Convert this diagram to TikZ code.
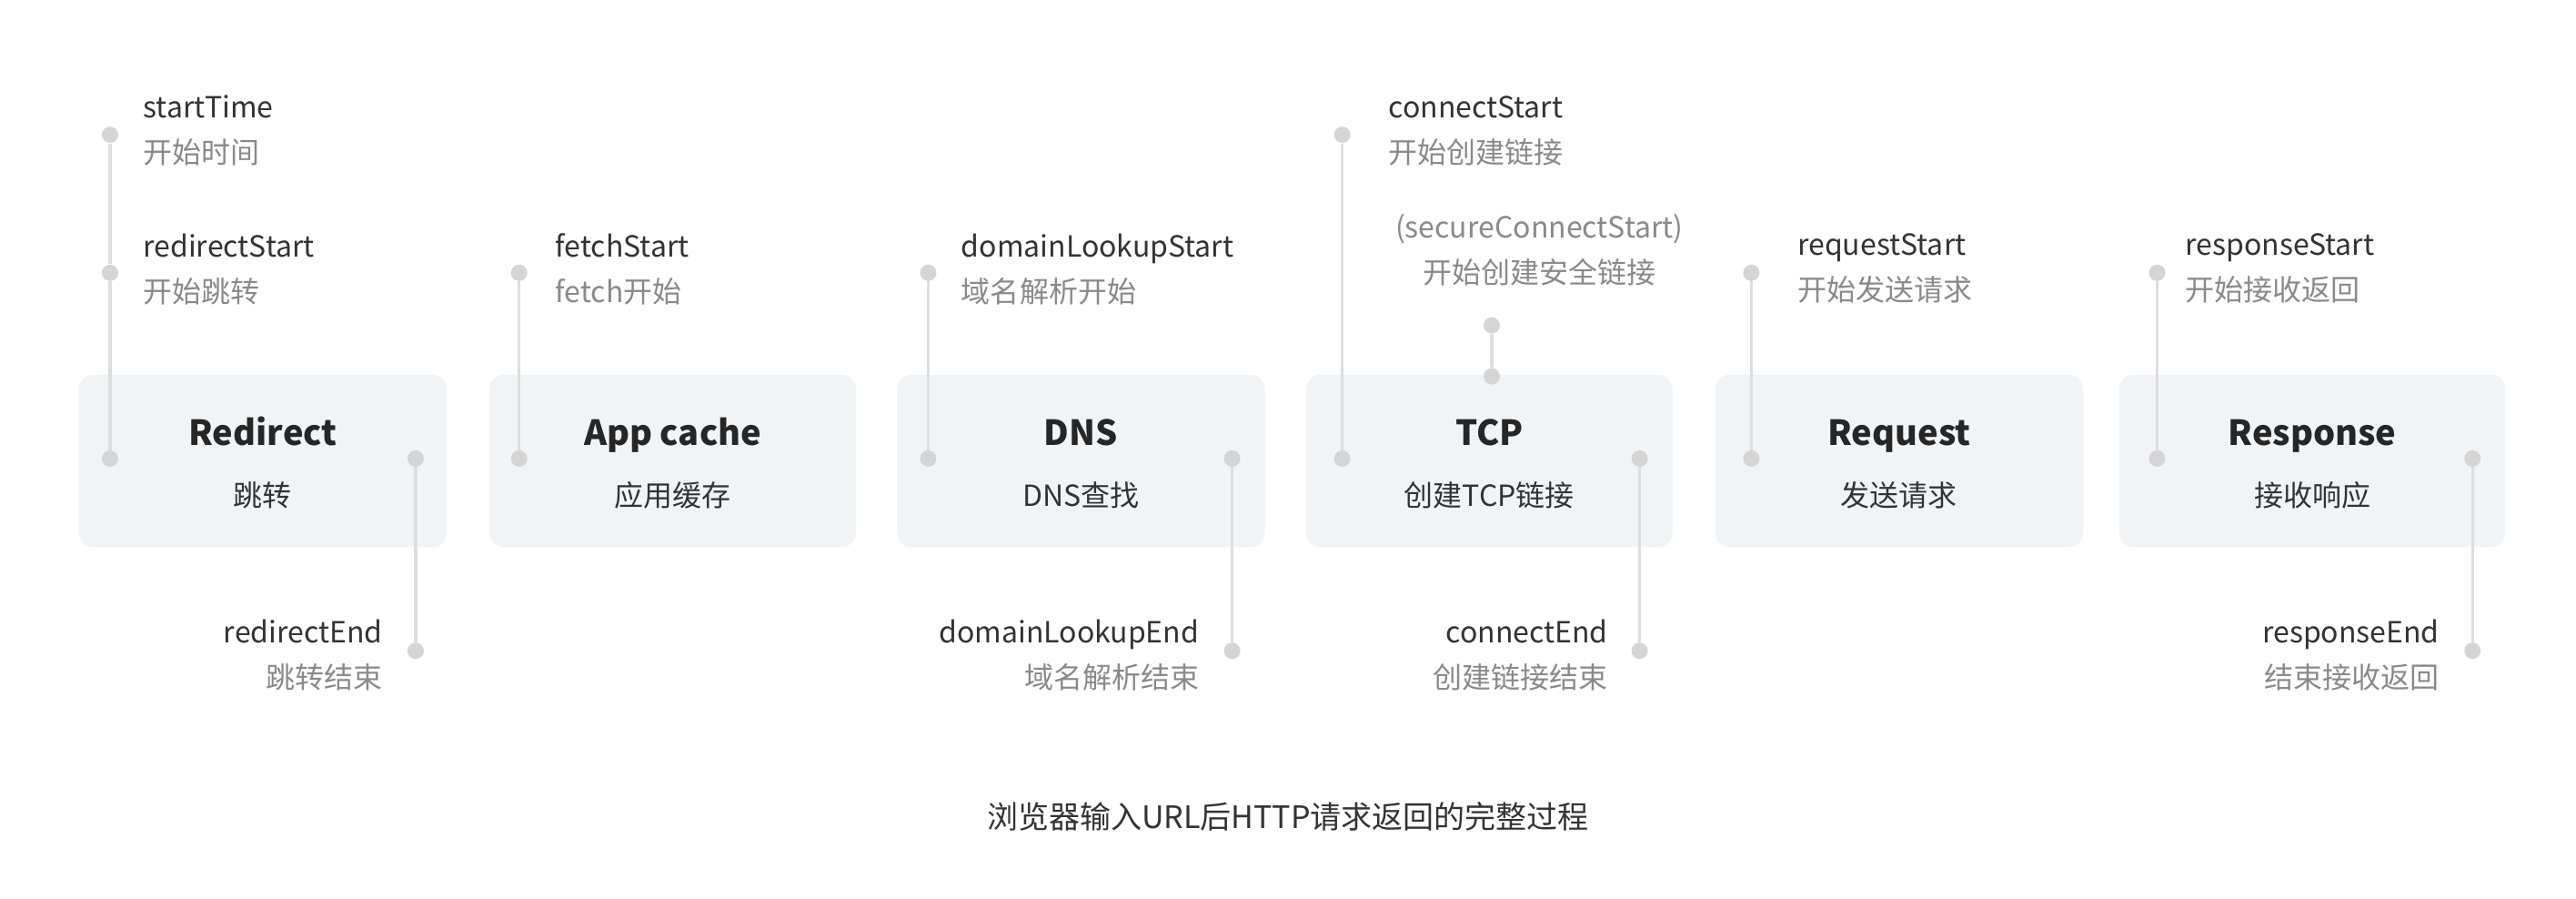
\documentclass[tikz,border=0pt]{standalone}
\usepackage{fontspec}
\setmainfont{Noto Sans CJK SC}
\definecolor{boxc}{HTML}{F1F4F7}
\definecolor{linec}{HTML}{DEDEDE}
\definecolor{dotc}{HTML}{D5D5D5}
\definecolor{en}{HTML}{333333}
\definecolor{cn}{HTML}{8A8A8A}
\begin{document}
\begin{tikzpicture}[x=0.903pt,y=-0.903pt,
  stage/.style={fill=boxc,rounded corners=8pt,draw=none},
  ttl/.style={font=\fontsize{19}{20}\selectfont\bfseries,text=black!85,anchor=base},
  sub/.style={font=\fontsize{16}{18}\selectfont,text=en,anchor=base},
  lab/.style={align=left,anchor=north west,font=\fontsize{16}{25}\selectfont,text=en,inner sep=0pt},
  labr/.style={align=right,anchor=north east,font=\fontsize{16}{25}\selectfont,text=en,inner sep=0pt},
  labc/.style={align=center,anchor=north,font=\fontsize{16}{25}\selectfont,text=en,inner sep=0pt},
  dotn/.style={circle,fill=dotc,inner sep=0pt,minimum size=9pt},
  conn/.style={draw=linec,line width=1.6pt}]
\fill[white] (0,0) rectangle (1568,547);
\useasboundingbox (0,0) rectangle (1568,547);
% boxes
\foreach \n/\a/\b/\t/\s in {r/48/272/Redirect/跳转, a/298/521/App cache/应用缓存, d/546/770/DNS/DNS查找, t/795/1018/TCP/创建TCP链接, q/1044/1268/Request/发送请求, p/1290/1525/Response/接收响应}{
  \path[stage] (\a,228) rectangle (\b,333);
  \node[ttl] (\n t) at ({(\a+\b)/2},271) {\t};
  \node[sub] (\n s) at ({(\a+\b)/2},308) {\s};
}
% dots
\node[dotn] (st) at (67,82) {};
\node[dotn] (rs) at (67,166) {};
\node[dotn] (rl) at (67,279) {};
\node[dotn] (rr) at (253,279) {};
\node[dotn] (re) at (253,396) {};
\node[dotn] (fs) at (316,166) {};
\node[dotn] (al) at (316,279) {};
\node[dotn] (ds) at (565,166) {};
\node[dotn] (dl) at (565,279) {};
\node[dotn] (dr) at (750,279) {};
\node[dotn] (de) at (750,396) {};
\node[dotn] (cs) at (817,82) {};
\node[dotn] (tl) at (817,279) {};
\node[dotn] (sc) at (908,198) {};
\node[dotn] (tc) at (908,229) {};
\node[dotn] (tr) at (998,279) {};
\node[dotn] (ce) at (998,396) {};
\node[dotn] (qs) at (1066,166) {};
\node[dotn] (ql) at (1066,279) {};
\node[dotn] (ps) at (1313,166) {};
\node[dotn] (pl) at (1313,279) {};
\node[dotn] (pr) at (1505,279) {};
\node[dotn] (pe) at (1505,396) {};
\draw[conn] (st) -- (rs) -- (rl);
\draw[conn] (rr) -- (re);
\draw[conn] (fs) -- (al);
\draw[conn] (ds) -- (dl);
\draw[conn] (dr) -- (de);
\draw[conn] (cs) -- (tl);
\draw[conn] (sc) -- (tc);
\draw[conn] (tr) -- (ce);
\draw[conn] (qs) -- (ql);
\draw[conn] (ps) -- (pl);
\draw[conn] (pr) -- (pe);
% labels
\node[lab] (l1) at (87,58) {startTime\\\textcolor{cn}{开始时间}};
\node[lab] (l2) at (87,142) {redirectStart\\\textcolor{cn}{开始跳转}};
\node[lab] (l3) at (338,142) {fetchStart\\\textcolor{cn}{fetch开始}};
\node[lab] (l4) at (585,142) {domainLookupStart\\\textcolor{cn}{域名解析开始}};
\node[lab] (l5) at (845,58) {connectStart\\\textcolor{cn}{开始创建链接}};
\node[labc] (l6) at (937,130) {\textcolor{cn}{(secureConnectStart)}\\\textcolor{cn}{开始创建安全链接}};
\node[lab] (l7) at (1094,142) {requestStart\\\textcolor{cn}{开始发送请求}};
\node[lab] (l8) at (1330,142) {responseStart\\\textcolor{cn}{开始接收返回}};
\node[labr] (l9) at (233,377) {redirectEnd\\\textcolor{cn}{跳转结束}};
\node[labr] (l10) at (730,377) {domainLookupEnd\\\textcolor{cn}{域名解析结束}};
\node[labr] (l11) at (979,377) {connectEnd\\\textcolor{cn}{创建链接结束}};
\node[labr] (l12) at (1485,377) {responseEnd\\\textcolor{cn}{结束接收返回}};
\node[font=\fontsize{17}{20}\selectfont,text=en] (cap) at (784,497) {浏览器输入URL后HTTP请求返回的完整过程};
\end{tikzpicture}
\end{document}
